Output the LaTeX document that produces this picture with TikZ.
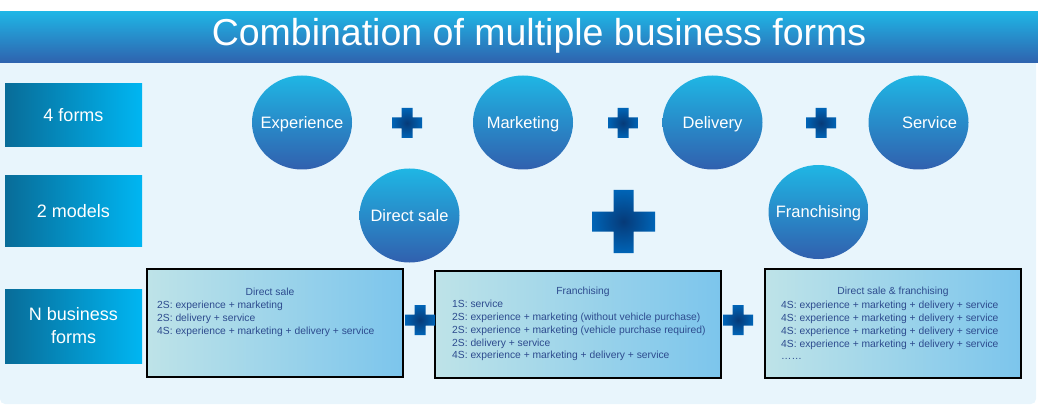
\documentclass[tikz,border=0pt]{standalone}
\usepackage{fontspec}
\setmainfont{Liberation Sans}
\usetikzlibrary{positioning,shapes.geometric}

\definecolor{bartop}{HTML}{1FB5E5}
\definecolor{barbot}{HTML}{2F62AE}
\definecolor{panel}{HTML}{E8F5FC}
\definecolor{sidedark}{HTML}{086C98}
\definecolor{sidelight}{HTML}{00B6F2}
\definecolor{bubtop}{HTML}{1FB6E4}
\definecolor{bubbot}{HTML}{3160AE}
\definecolor{boxleft}{HTML}{BEE3E8}
\definecolor{boxright}{HTML}{7CC5EC}
\definecolor{infotext}{HTML}{2D4B8E}
\definecolor{plusdark}{HTML}{063A78}
\definecolor{pluslight}{HTML}{0064B6}

\tikzset{pics/plusmark/.style 2 args={code={
  \shade[inner color=plusdark,outer color=pluslight]
    (-#2,-#1) -- (#2,-#1) -- (#2,-#2) -- (#1,-#2) -- (#1,#2) -- (#2,#2) --
    (#2,#1) -- (-#2,#1) -- (-#2,#2) -- (-#1,#2) -- (-#1,-#2) -- (-#2,-#2) -- cycle;
}}}

\begin{document}
\begin{tikzpicture}[x=1pt,y=-1pt,
  side/.style={rectangle,minimum width=137pt,left color=sidedark,right color=sidelight,
    text=white,font=\fontsize{18}{23}\selectfont,align=center},
  bubble/.style={ellipse,minimum width=100pt,minimum height=94pt,inner sep=0pt,
    top color=bubtop,bottom color=bubbot},
  every label/.style={text=white,font=\fontsize{16.5}{20}\selectfont,text depth=0pt},
  infobox/.style={rectangle,draw=black,line width=1.6pt,minimum width=256pt,
    minimum height=108pt,left color=boxleft,right color=boxright},
  infotitle/.style={text=infotext,font=\fontsize{10.3}{12.8}\selectfont,inner sep=0pt},
  infolist/.style={infotitle,align=left,anchor=north west}]

		\useasboundingbox (0,0) rectangle (1038,406);

		%background and title
		\fill[panel,rounded corners=5pt] (0,50) rectangle (1036,404);
		\shade[top color=bartop,bottom color=barbot] (0,12) rectangle (1038,63);
		\node[text=white,font=\fontsize{37.5}{40}\selectfont] (title) at (539,36) {Combination of multiple business forms};

		%left labels
		\node[side,minimum height=63pt] (forms) at (73.5,115.5) {4 forms};
		\node[side,minimum height=70pt] (models) at (73.5,211) {2 models};
		\node[side,minimum height=74pt] (nforms) at (73.5,326) {N business\\forms};

		%4 forms
		\node[bubble,label={center:Experience}] (exp) at (302,122.5) {};
		\node[bubble,label={center:Marketing}] (mkt) at (523,122.5) {};
		\node[bubble,label={center:Delivery}] (dlv) at (712.5,122.5) {};
		\node[bubble,label={[xshift=11pt]center:Service}] (svc) at (918.5,122.5) {};
		\pic at (407,123) {plusmark={15}{5.5}};
		\pic at (623,123) {plusmark={15}{5.5}};
		\pic at (821,123) {plusmark={15}{5.5}};

		%2 models
		\node[bubble,label={center:Direct sale}] (dsale) at (409.5,215.5) {};
		\node[bubble,label={center:Franchising}] (fran) at (818.5,212) {};
		\pic at (623.5,221.5) {plusmark={31.5}{10}};

		%N business forms
		\node[infobox] (box1) at (275,323) {};
		\node[infobox,minimum width=286pt,minimum height=107pt] (box2) at (578,324.5) {};
		\node[infobox,minimum height=109pt] (box3) at (893,323.5) {};
		\pic at (420,320) {plusmark={15}{5.5}};
		\pic at (738,320) {plusmark={15}{5.5}};

		\node[infotitle] (t1) at (270,292) {Direct sale};
		\node[infolist] (l1) at (157,301) {2S: experience + marketing\\2S: delivery + service\\4S: experience + marketing + delivery + service};

		\node[infotitle] (t2) at (583,292) {Franchising};
		\node[infolist] (l2) at (452,300) {1S: service\\2S: experience + marketing (without vehicle purchase)\\2S: experience + marketing (vehicle purchase required)\\2S: delivery + service\\4S: experience + marketing + delivery + service};

		\node[infotitle] (t3) at (893,292) {Direct sale \& franchising};
		\node[infolist] (l3) at (781,301) {4S: experience + marketing + delivery + service\\4S: experience + marketing + delivery + service\\4S: experience + marketing + delivery + service\\4S: experience + marketing + delivery + service\\……};

		\end{tikzpicture}
\end{document}
